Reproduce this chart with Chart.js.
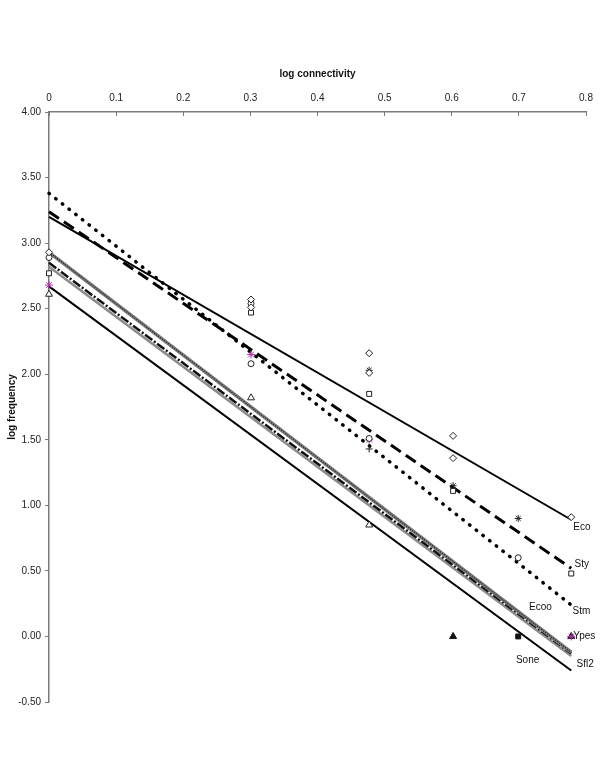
<!DOCTYPE html>
<html>
<head>
<meta charset="utf-8">
<script src="https://cdn.jsdelivr.net/npm/chart.js@4/dist/chart.umd.min.js"></script>
<style>
html,body{margin:0;padding:0;background:#fff;}
canvas{display:block;}
</style>
</head>
<body>
<canvas id="c" width="600" height="776"></canvas>
<script>
// ---- Data (log connectivity x, log frequency y) ----
const xTitle = 'log connectivity';
const yTitle = 'log frequency';

// observed points per species
const ecoX  = [0, 0.301, 0.477, 0.602, 0.778];
const ecoY  = [2.93, 2.57, 2.16, 1.53, 0.91];
const ecooX = [0.301, 0.477, 0.602];
const ecooY = [2.51, 2.01, 1.36];
const stmX  = [0, 0.301, 0.301, 0.477, 0.699];
const stmY  = [2.89, 2.54, 2.08, 1.51, 0.60];
const styX  = [0, 0.301, 0.477, 0.602, 0.778];
const styY  = [2.77, 2.47, 1.85, 1.11, 0.48];
const ypesX = [0, 0.301, 0.477, 0.778];
const ypesY = [2.68, 2.15, 1.50, 0.00];
const soneX = [0.477, 0.602, 0.699];
const soneY = [2.03, 1.15, 0.90];
const sonePlusX = [0.477];
const sonePlusY = [1.43];
const soneZeroX = [0.699];
const soneZeroY = [0.00];
const sfl2X = [0, 0.301, 0.477];
const sfl2Y = [2.61, 1.82, 0.85];
const sfl2ZeroX = [0.602, 0.778];
const sfl2ZeroY = [0.00, 0.00];

// fitted regression lines (values at fitX)
const fitX    = [0, 0.778];
const ecoFit  = [3.20, 0.89];
const styFit  = [3.24, 0.52];
const stmFit  = [3.38, 0.24];
const ecooFit = [2.93, -0.12];
const ypesFit = [2.85, -0.13];
const sfl2Fit = [2.82, -0.15];
const soneFit = [2.67, -0.26];

// series labels: name, x, y (data coords), alignment
const labelNames = ['Eco', 'Sty', 'Stm', 'Ecoo', 'Ypes', 'Sone', 'Sfl2'];
const labelX     = [0.781, 0.783, 0.780, 0.732, 0.781, 0.713, 0.786];
const labelY     = [0.83, 0.55, 0.19, 0.22, 0.00, -0.18, -0.21];
const labelAlign = ['left', 'left', 'left', 'center', 'left', 'center', 'left'];

// axis ranges / ticks
const xMin = 0, xMax = 0.8, xStep = 0.1;
const yMin = -0.5, yMax = 4.0, yStep = 0.5;

// ---- helpers ----
const pts = (xs, ys) => xs.map((x, i) => ({x: x, y: ys[i]}));
const lineDs = (ys, color, width, dash, cap) => ({
  type: 'line', data: pts(fitX, ys), borderColor: color, borderWidth: width,
  borderDash: dash || [], borderCapStyle: cap || 'butt', pointRadius: 0,
  fill: false, tension: 0, order: 2, showLine: true, clip: false
});
const markDs = (xs, ys, style, color, fillColor, r) => ({
  type: 'scatter', data: pts(xs, ys), pointStyle: style, pointRadius: r || 3,
  pointBorderColor: color, pointBackgroundColor: fillColor, pointBorderWidth: 1,
  borderColor: color, backgroundColor: fillColor, showLine: false, order: 1, clip: false
});

const FONT = '"Liberation Sans", Arial, sans-serif';
const AXIS = '#7a7a7a';

const labelPlugin = {
  id: 'seriesLabels',
  beforeDatasetsDraw(chart) {
    const ctx = chart.ctx, xs = chart.scales.x, ys = chart.scales.y;
    ctx.save();
    ctx.font = '10px ' + FONT;
    ctx.fillStyle = '#111';
    ctx.textBaseline = 'middle';
    labelNames.forEach((n, i) => {
      ctx.textAlign = labelAlign[i];
      ctx.fillText(n, xs.getPixelForValue(labelX[i]), ys.getPixelForValue(labelY[i]));
    });
    ctx.restore();
  }
};

new Chart(document.getElementById('c'), {
  type: 'scatter',
  data: {
    datasets: [
      // markers
      markDs(ecoX, ecoY, 'rectRot', '#222', '#fff', 3.5),
      markDs(ecooX, ecooY, 'rectRot', '#222', '#fff', 3.5),
      markDs(stmX, stmY, 'circle', '#222', '#fff', 3),
      markDs(styX, styY, 'rect', '#222', '#fff', 3.5),
      markDs(ypesX, ypesY, 'star', '#b030b0', '#b030b0', 4),
      markDs(soneX, soneY, 'star', '#222', '#222', 3.5),
      markDs(sonePlusX, sonePlusY, 'cross', '#222', '#222', 3.5),
      markDs(soneZeroX, soneZeroY, 'rect', '#111', '#111', 3.5),
      markDs(sfl2X, sfl2Y, 'triangle', '#222', '#fff', 4),
      markDs(sfl2ZeroX, sfl2ZeroY, 'triangle', '#111', '#111', 4),
      // fitted lines
      lineDs(ecoFit, '#000', 2),
      lineDs(styFit, '#000', 3, [12, 6]),
      lineDs(stmFit, '#000', 3.5, [0.5, 8], 'round'),
      lineDs(ecooFit, '#222', 1.3, [1, 1.5]),
      lineDs(ecooFit, '#7a7a7a', 3.5),
      lineDs(ypesFit, '#111', 2.5, [9, 2, 2, 2]),
      lineDs(sfl2Fit, '#8c8c8c', 2.5),
      lineDs(soneFit, '#000', 2)
    ]
  },
  options: {
    responsive: false,
    animation: false,
    devicePixelRatio: 1,
    layout: {padding: {left: 0, top: 0, right: 14, bottom: 74}},
    plugins: {legend: {display: false}, tooltip: {enabled: false}},
    scales: {
      x: {
        type: 'linear', position: 'top', min: xMin, max: xMax,
        afterFit: s => { s.height = 112; s.paddingLeft = 0; s.paddingRight = 0; },
        border: {display: true, color: AXIS, width: 1.5},
        grid: {display: true, drawOnChartArea: false, drawTicks: true, tickLength: -4, color: AXIS, lineWidth: 1},
        ticks: {
          stepSize: xStep, padding: 12, color: '#222', font: {family: FONT, size: 10},
          maxRotation: 0, autoSkip: false,
          callback: v => String(Number(Number(v).toFixed(1)))
        },
        title: {display: true, text: xTitle, color: '#111', font: {family: FONT, size: 10, weight: 'bold'}, padding: {top: 68, bottom: 0}}
      },
      y: {
        type: 'linear', position: 'left', min: yMin, max: yMax,
        afterFit: s => { s.width = 49; s.paddingTop = 0; s.paddingBottom = 0; },
        border: {display: true, color: AXIS, width: 1.5},
        grid: {display: true, drawOnChartArea: false, drawTicks: true, tickLength: 4, color: AXIS, lineWidth: 1},
        ticks: {
          stepSize: yStep, padding: 4, color: '#222', font: {family: FONT, size: 10},
          callback: v => Number(v).toFixed(2)
        },
        title: {display: true, text: yTitle, color: '#111', font: {family: FONT, size: 10, weight: 'bold'}, padding: {top: 6, bottom: 0}}
      }
    }
  },
  plugins: [labelPlugin]
});
</script>
</body>
</html>
